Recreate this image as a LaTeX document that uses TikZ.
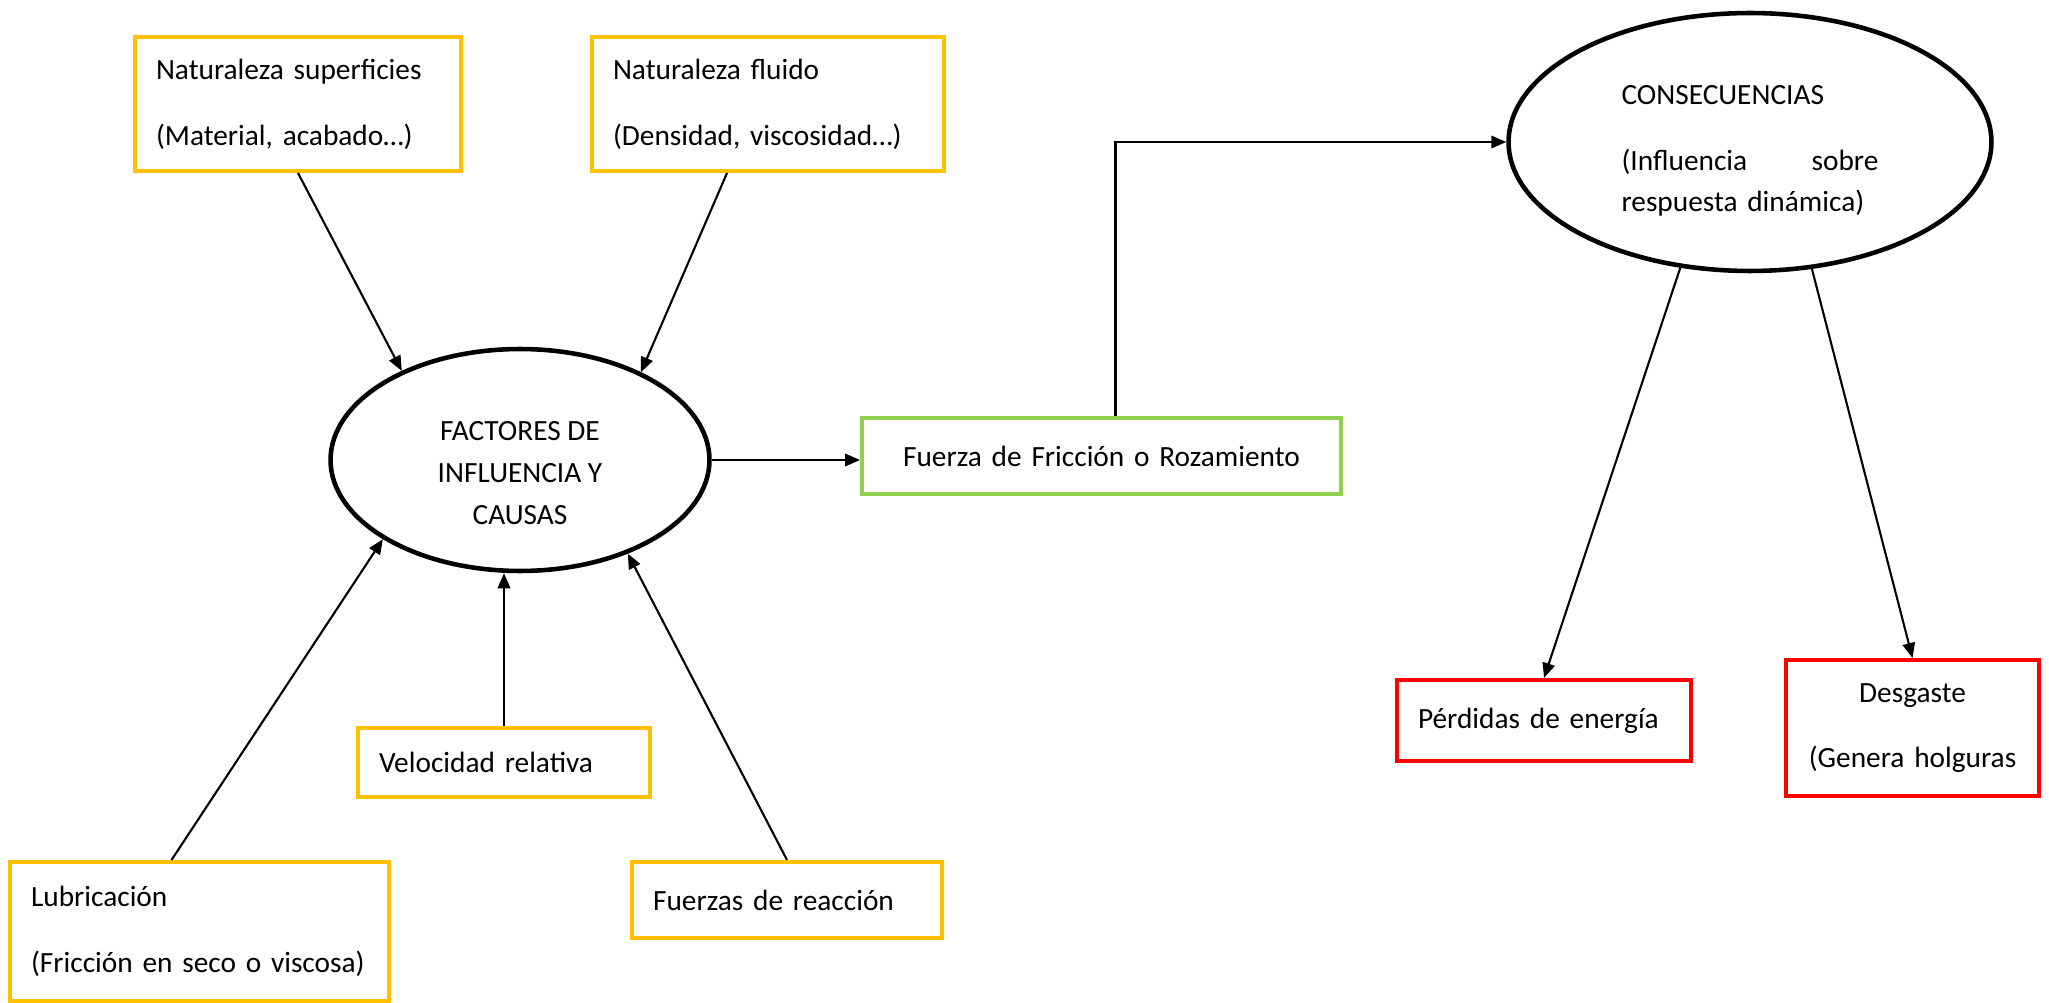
\documentclass[tikz,border=0pt]{standalone}
\usepackage{fontspec}
\setmainfont{Carlito}
\usetikzlibrary{shapes.geometric,arrows.meta}
\definecolor{amarillo}{HTML}{FFC000}
\definecolor{verde}{HTML}{92D050}
\definecolor{rojo}{HTML}{FF0000}

\begin{document}
\begin{tikzpicture}[x=0.02cm, y=-0.02cm,
    txt/.style={font=\fontsize{16.7}{23.8}\selectfont},
    caja/.style={draw=#1, line width=2.3pt, txt, inner xsep=0.42cm, inner ysep=0pt, align=left},
    elipse/.style={draw, ellipse, line width=2.6pt, txt, inner sep=0pt},
    flecha/.style={-{Triangle[length=0.3cm,width=0.25cm]}, line width=1.2pt}]
       \useasboundingbox (0,0) rectangle (2049,1003);
       % causas
       \node[caja=amarillo, text width=5.68cm, minimum height=2.68cm] (ns) at (298,104) {Naturaleza superficies\\[13.6pt](Material, acabado…)};
       \node[caja=amarillo, text width=6.2cm, minimum height=2.68cm]  (nf) at (768,104) {Naturaleza fluido\\[13.6pt](Densidad, viscosidad…)};
       \node[caja=amarillo, text width=5cm, minimum height=1.38cm]    (vel) at (504,762.5) {Velocidad relativa};
       \node[caja=amarillo, text width=6.74cm, minimum height=2.78cm] (lub) at (199.5,931.5) {Lubricación\\[13.6pt](Fricción en seco o viscosa)};
       \node[caja=amarillo, text width=5.36cm, minimum height=1.52cm] (frc) at (787,900) {Fuerzas de reacción};
       \node[elipse, minimum width=7.58cm, minimum height=4.44cm, align=center] (fac) at (520,460) {\rule{0pt}{0.9cm}FACTORES DE\\INFLUENCIA Y\\CAUSAS};
       % fuerza y consecuencias
       \node[caja=verde, text width=8.74cm, minimum height=1.52cm, align=center] (fr) at (1101.5,456) {Fuerza de Fricción o Rozamiento};
       \node[elipse, minimum width=9.66cm, minimum height=5.16cm, text width=5.14cm, align=left] (cons) at (1750,142) {\rule{0pt}{0.74cm}CONSECUENCIAS\\[13.6pt](Influencia\hskip 0pt plus 1fill sobre\\respuesta dinámica)};
       \node[caja=rojo, text width=5.04cm, minimum height=1.62cm] (per) at (1544,720.5) {Pérdidas de energía};
       \node[caja=rojo, inner xsep=0.2cm, text width=4.66cm, minimum height=2.72cm, align=center] (des) at (1912.5,728) {Desgaste\\[13.6pt](Genera holguras};
       % flechas
       \draw[flecha] (ns.south) -- (fac.143);
       \draw[flecha] ([xshift=-0.82cm]nf.south) -- (fac.36);
       \draw[flecha] ([xshift=-0.56cm]lub.north) -- (fac.210);
       \draw[flecha] (vel.north) -- (vel.north |- fac.south);
       \draw[flecha] (frc.north) -- (fac.-41);
       \draw[flecha] (fac.east) -- (fac.east -| fr.west);
       \draw[flecha] ([xshift=0.28cm]fr.north) |- (cons.west);
       \draw[flecha] (cons.241) -- (per.north);
       \draw[flecha] (cons.-64) -- (des.north);
\end{tikzpicture}
\end{document}
